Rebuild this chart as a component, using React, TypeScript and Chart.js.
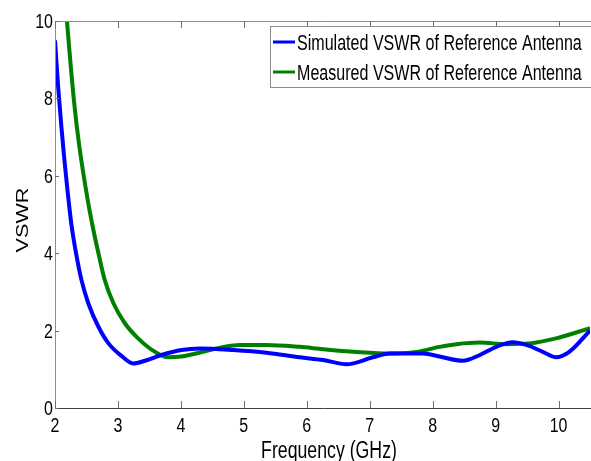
import React, { useEffect, useRef } from "react";
import { Chart, registerables } from "chart.js";

Chart.register(...registerables);

const simFreq = [2.0, 2.05, 2.1, 2.15, 2.2, 2.26, 2.34, 2.42, 2.53, 2.69, 2.85, 3.06, 3.24, 3.43, 3.69, 4.01, 4.3, 4.83, 5.36, 5.89, 6.26, 6.63, 7.05, 7.32, 7.85, 8.11, 8.48, 8.75, 9.01, 9.27, 9.49, 9.75, 9.96, 10.17, 10.5];
const simVswr = [9.5, 8.3, 7.3, 6.4, 5.6, 4.75, 3.95, 3.31, 2.7, 2.1, 1.67, 1.34, 1.15, 1.22, 1.37, 1.5, 1.54, 1.5, 1.43, 1.31, 1.24, 1.13, 1.31, 1.41, 1.41, 1.33, 1.22, 1.37, 1.58, 1.7, 1.63, 1.45, 1.31, 1.45, 2.0];

const measFreq = [2.0, 2.19, 2.3, 2.38, 2.52, 2.61, 2.69, 2.79, 2.93, 3.11, 3.32, 3.59, 3.8, 4.01, 4.22, 4.51, 4.94, 5.36, 5.89, 6.26, 6.79, 7.32, 7.74, 8.11, 8.38, 8.75, 9.17, 9.54, 9.96, 10.5];
const measVswr = [14.0, 10.0, 7.96, 6.84, 5.37, 4.6, 4.0, 3.31, 2.7, 2.19, 1.8, 1.45, 1.31, 1.33, 1.4, 1.52, 1.63, 1.63, 1.58, 1.52, 1.45, 1.41, 1.45, 1.58, 1.65, 1.69, 1.65, 1.67, 1.8, 2.06];

const xTicks = [2, 3, 4, 5, 6, 7, 8, 9, 10];
const yTicks = [0, 2, 4, 6, 8, 10];
const seriesNames = ["Simulated VSWR of Reference Antenna", "Measured VSWR of Reference Antenna"];
const seriesColors = ["rgb(0,0,255)", "rgb(0,128,0)"];
const xTitle = "Frequency (GHz)";
const yTitle = "VSWR";

const FONT = '"Liberation Sans", Arial, sans-serif';

function txt(ctx: CanvasRenderingContext2D, s: string, x: number, y: number, size: number, sx: number, align: CanvasTextAlign, rot = 0) {
  ctx.save();
  ctx.translate(x, y);
  ctx.rotate(rot);
  ctx.scale(sx, 1);
  ctx.font = `${size}px ${FONT}`;
  ctx.textAlign = align;
  ctx.textBaseline = "alphabetic";
  ctx.fillStyle = "#000";
  ctx.fillText(s, 0, 0);
  ctx.restore();
}

const decor = {
  id: "decor",
  afterDraw(chart: any) {
    const ctx: CanvasRenderingContext2D = chart.ctx;
    const { left, right, top, bottom } = chart.chartArea;
    const xs = chart.scales.x;
    const ys = chart.scales.y;
    ctx.save();
    ctx.lineWidth = 1;
    ctx.strokeStyle = "#8c8c8c";
    ctx.beginPath();
    ctx.moveTo(left + 0.5, bottom);
    ctx.lineTo(left + 0.5, top + 0.5);
    ctx.lineTo(right + 2, top + 0.5);
    ctx.stroke();
    ctx.strokeStyle = "#404040";
    ctx.beginPath();
    ctx.moveTo(left, bottom + 0.5);
    ctx.lineTo(right + 2, bottom + 0.5);
    ctx.stroke();
    ctx.strokeStyle = "#6e6e6e";
    ctx.beginPath();
    xTicks.forEach((v) => {
      const px = Math.round(xs.getPixelForValue(v)) + 0.5;
      ctx.moveTo(px, bottom);
      ctx.lineTo(px, bottom - 7);
      ctx.moveTo(px, top);
      ctx.lineTo(px, top + 7);
    });
    yTicks.forEach((v) => {
      const py = Math.round(ys.getPixelForValue(v)) + 0.5;
      ctx.moveTo(left, py);
      ctx.lineTo(left + 4, py);
    });
    ctx.stroke();
    xTicks.forEach((v) => {
      txt(ctx, String(v), xs.getPixelForValue(v), bottom + 24, 20, 0.8, "center");
    });
    yTicks.forEach((v) => {
      txt(ctx, String(v), left - 2, ys.getPixelForValue(v) + 7, 20, 0.8, "right");
    });
    txt(ctx, xTitle, 329, 458, 23, 0.77, "center");
    txt(ctx, yTitle, 28, 220, 17, 1.27, "center", -Math.PI / 2);
    ctx.fillStyle = "#fff";
    ctx.fillRect(270.5, 26.5, 330, 61);
    ctx.strokeStyle = "#8c8c8c";
    ctx.lineWidth = 1;
    ctx.strokeRect(270.5, 26.5, 330, 61);
    const rows = [42, 72];
    seriesNames.forEach((name, i) => {
      ctx.strokeStyle = seriesColors[i];
      ctx.lineWidth = 3;
      ctx.beginPath();
      ctx.moveTo(273, rows[i]);
      ctx.lineTo(295, rows[i]);
      ctx.stroke();
      txt(ctx, name, 297, rows[i] + 8, 22, 0.73, "left");
    });
    ctx.restore();
  },
};

export default function App() {
  const ref = useRef<HTMLCanvasElement>(null);
  useEffect(() => {
    if (!ref.current) return;
    const mk = (xsArr: number[], ysArr: number[]) => xsArr.map((x, i) => ({ x, y: ysArr[i] }));
    const chart = new Chart(ref.current, {
      type: "line",
      data: {
        datasets: [
          { label: seriesNames[0], data: mk(simFreq, simVswr), borderColor: seriesColors[0], borderWidth: 4, pointRadius: 0, cubicInterpolationMode: "monotone", fill: false },
          { label: seriesNames[1], data: mk(measFreq, measVswr), borderColor: seriesColors[1], borderWidth: 4, pointRadius: 0, cubicInterpolationMode: "monotone", fill: false },
        ],
      },
      options: {
        responsive: false,
        animation: false,
        devicePixelRatio: 1,
        layout: { padding: { left: 55, top: 21, right: 1, bottom: 53 } },
        plugins: { legend: { display: false }, tooltip: { enabled: false } },
        scales: {
          x: { type: "linear", min: 2, max: 10.5, display: false },
          y: { type: "linear", min: 0, max: 10, display: false },
        },
      },
      plugins: [decor],
    } as any);
    return () => chart.destroy();
  }, []);
  return (
    <div style={{ position: "fixed", left: 0, top: 0, width: 591, height: 461, background: "#fff" }}>
      <canvas ref={ref} width={591} height={461} style={{ display: "block" }} />
    </div>
  );
}
